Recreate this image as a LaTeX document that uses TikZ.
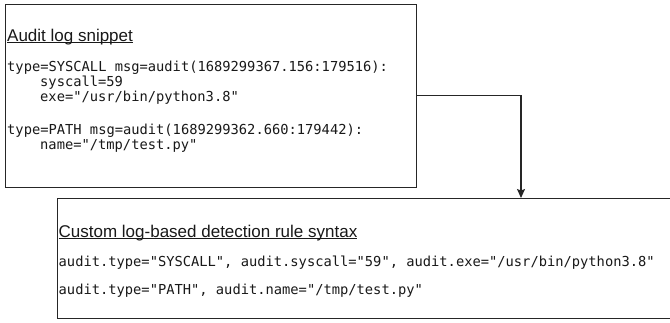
\documentclass[tikz,border=0pt]{standalone}
\usepackage{fontspec}
\setmainfont{Liberation Sans}
\newfontfamily\codefont{DejaVu Sans Mono}
\usetikzlibrary{arrows.meta}

% underline drawn just under the baseline, through the descenders
\newcommand\headul[1]{\setbox0\hbox{#1}\rlap{\rule[-1.6pt]{\wd0}{0.9pt}}\box0}

\tikzset{
  panel/.style={draw=black!85, line width=1.2pt, fill=white, inner sep=0pt, anchor=north west},
  heading/.style={anchor=base west, inner sep=0pt, font=\fontsize{17}{20}\selectfont, text=black!90},
  code/.style={anchor=base west, inner sep=0pt, font=\codefont\fontsize{13.75}{15}\selectfont, text=black!90},
  link/.style={draw=black!85, line width=1.2pt, -{Stealth[length=9pt,width=8pt,inset=1.5pt]}}
}

\begin{document}
\begin{tikzpicture}[x=1pt,y=-1pt]
  \useasboundingbox (0,0) rectangle (670,322);
  \begin{scope}
    \clip (0,0) rectangle (670,322);

    % upper panel: raw audit records
    \node[panel, minimum width=411pt, minimum height=183pt] (logbox) at (5,3.5) {};
    \node[heading] (logtitle) at (7,41) {\headul{Audit log snippet}};
    \node[code] (l1) at (7,71.5) {type=SYSCALL msg=audit(1689299367.156:179516):};
    \node[code] (l2) at (7,86.5) {\hspace*{33pt}syscall=59};
    \node[code] (l3) at (7,101.5) {\hspace*{33pt}exe="/usr/bin/python3.8"};
    \node[code] (l4) at (7,134.5) {type=PATH msg=audit(1689299362.660:179442):};
    \node[code] (l5) at (7,149.5) {\hspace*{33pt}name="/tmp/test.py"};

    % lower panel: rule syntax (runs past the right edge)
    \node[panel, minimum width=630pt, minimum height=120pt] (rulebox) at (57,198) {};
    \node[heading] (ruletitle) at (58.5,237) {\headul{Custom log-based detection rule syntax}};
    \node[code] (r1) at (58.5,266.5) {audit.type="SYSCALL", audit.syscall="59", audit.exe="/usr/bin/python3.8"};
    \node[code] (r2) at (58.5,294) {audit.type="PATH", audit.name="/tmp/test.py"};

    % connector
    \coordinate (drop) at (521,198);
    \draw[link] (logbox.east) -| (drop);
  \end{scope}
\end{tikzpicture}
\end{document}
